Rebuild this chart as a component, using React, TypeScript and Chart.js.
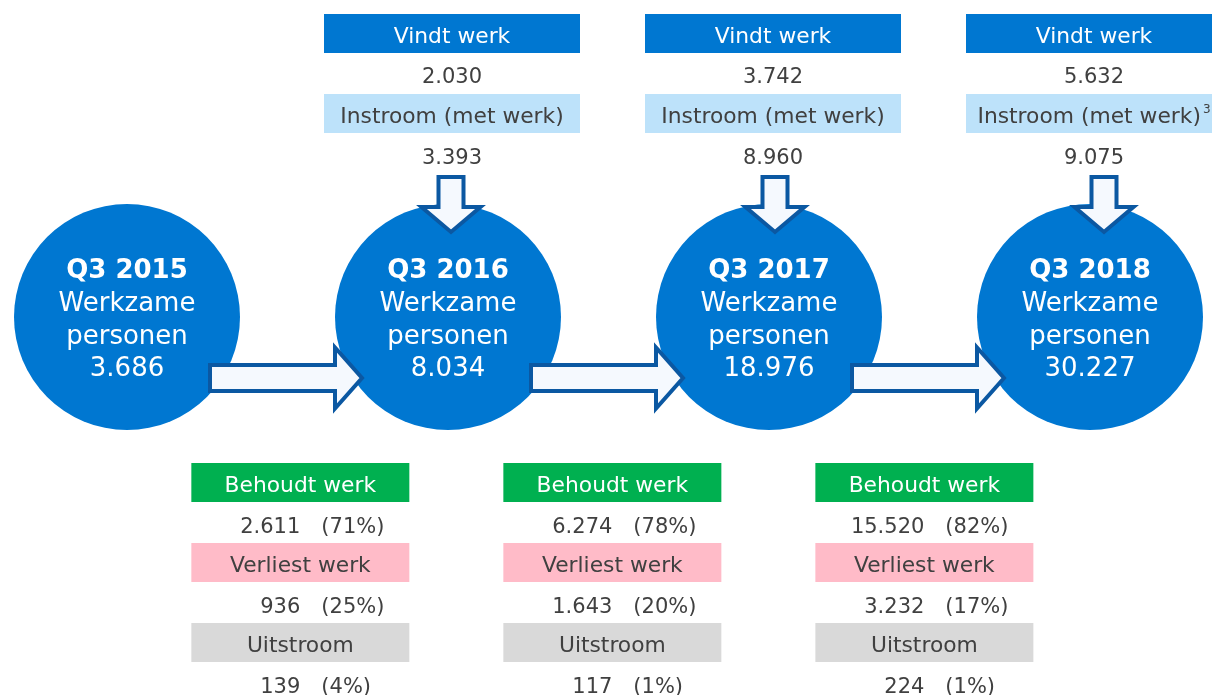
import React, { useEffect, useRef } from "react";
import { Chart, registerables } from "chart.js";

Chart.register(...registerables);

// ---------- data ----------
const periods = ["Q3 2015", "Q3 2016", "Q3 2017", "Q3 2018"];
const werkzamePersonen = [3686, 8034, 18976, 30227];
// inflow into periods 2..4
const vindtWerk = [2030, 3742, 5632];
const instroomMetWerk = [3393, 8960, 9075];
const instroomNotes = ["", "", "3"];
// outcomes of periods 1..3
const behoudtWerk = [2611, 6274, 15520];
const behoudtPct = [71, 78, 82];
const verliestWerk = [936, 1643, 3232];
const verliestPct = [25, 20, 17];
const uitstroom = [139, 117, 224];
const uitstroomPct = [4, 1, 1];

// ---------- style ----------
const FONT = '"DejaVu Sans", Verdana, sans-serif';
const LABEL_FONT = `21.8px ${FONT}`;
const VALUE_FONT = `21px ${FONT}`;
const BLUE = "#0077D1";
const LIGHT_BLUE = "#BDE2FA";
const GREEN = "#00B050";
const PINK = "#FFBBC8";
const GREY = "#D9D9D9";
const TEXT = "#404040";
const ARROW_STROKE = "#0B58A2";
const ARROW_FILL = "#F5F9FE";
const CIRCLE_Y = 317;
const CIRCLE_R = 113;

const fmt = (n: number) => String(n).replace(/\B(?=(\d{3})+(?!\d))/g, ".");

function box(ctx: CanvasRenderingContext2D, cx: number, y: number, w: number, color: string) {
  ctx.fillStyle = color;
  ctx.fillRect(cx - w / 2, y, w, 39);
}

function label(ctx: CanvasRenderingContext2D, text: string, x: number, y: number, color: string, align: CanvasTextAlign = "center", font = VALUE_FONT) {
  ctx.font = font;
  ctx.fillStyle = color;
  ctx.textAlign = align;
  ctx.textBaseline = "alphabetic";
  ctx.fillText(text, x, y);
}

function rightArrow(ctx: CanvasRenderingContext2D, x0: number, tip: number, cy: number) {
  const base = tip - 30;
  ctx.beginPath();
  ctx.moveTo(x0 + 2, cy - 13);
  ctx.lineTo(base, cy - 13);
  ctx.lineTo(base, cy - 30.5);
  ctx.lineTo(tip - 3, cy);
  ctx.lineTo(base, cy + 30.5);
  ctx.lineTo(base, cy + 13);
  ctx.lineTo(x0 + 2, cy + 13);
  ctx.closePath();
  ctx.fillStyle = ARROW_FILL;
  ctx.fill();
  ctx.lineWidth = 4;
  ctx.lineJoin = "miter";
  ctx.strokeStyle = ARROW_STROKE;
  ctx.stroke();
}

function downArrow(ctx: CanvasRenderingContext2D, cx: number, top: number, tip: number) {
  const base = tip - 28;
  ctx.beginPath();
  ctx.moveTo(cx - 12.5, top + 2);
  ctx.lineTo(cx + 12.5, top + 2);
  ctx.lineTo(cx + 12.5, base);
  ctx.lineTo(cx + 29.5, base);
  ctx.lineTo(cx, tip - 3);
  ctx.lineTo(cx - 29.5, base);
  ctx.lineTo(cx - 12.5, base);
  ctx.closePath();
  ctx.fillStyle = ARROW_FILL;
  ctx.fill();
  ctx.lineWidth = 4;
  ctx.lineJoin = "miter";
  ctx.strokeStyle = ARROW_STROKE;
  ctx.stroke();
}

const downArrowDx = [3, 6, 14];

const infographic = {
  id: "infographic",
  afterDatasetsDraw(chart: any) {
    const ctx: CanvasRenderingContext2D = chart.ctx;
    const xs = chart.scales.x;
    const pts = chart.getDatasetMeta(0).data;
    ctx.save();

    // circle texts
    pts.forEach((p: any, i: number) => {
      const cx = p.x;
      const cy = p.y;
      label(ctx, periods[i], cx, cy - 39, "#FFFFFF", "center", `bold 26px ${FONT}`);
      label(ctx, "Werkzame", cx, cy - 6, "#FFFFFF", "center", `26px ${FONT}`);
      label(ctx, "personen", cx, cy + 26.5, "#FFFFFF", "center", `26px ${FONT}`);
      label(ctx, fmt(werkzamePersonen[i]), cx, cy + 58.5, "#FFFFFF", "center", `26px ${FONT}`);
    });

    // inflow columns (top)
    vindtWerk.forEach((v, k) => {
      const i = k + 1;
      const cx = pts[i].x + 4;
      box(ctx, cx, 14, 256, BLUE);
      label(ctx, "Vindt werk", cx, 43, "#FFFFFF", "center", LABEL_FONT);
      label(ctx, fmt(v), cx, 83, TEXT);
      box(ctx, cx, 94, 256, LIGHT_BLUE);
      const main = "Instroom (met werk)";
      const note = instroomNotes[k];
      ctx.font = LABEL_FONT;
      const wMain = ctx.measureText(main).width;
      ctx.font = `12px ${FONT}`;
      const wNote = note ? ctx.measureText(note).width + 2 : 0;
      const startX = cx - (wMain + wNote) / 2;
      label(ctx, main, startX, 123, TEXT, "left", LABEL_FONT);
      if (note) label(ctx, note, startX + wMain + 2, 113, TEXT, "left", `12px ${FONT}`);
      label(ctx, fmt(instroomMetWerk[k]), cx, 164, TEXT);
      downArrow(ctx, pts[i].x + downArrowDx[k], 175, 235);
    });

    // outcome columns (bottom)
    behoudtWerk.forEach((v, i) => {
      const cx = xs.getPixelForValue(0.54 + i * 0.972);
      box(ctx, cx, 463, 218, GREEN);
      label(ctx, "Behoudt werk", cx, 492, "#FFFFFF", "center", LABEL_FONT);
      label(ctx, fmt(v), cx, 533, TEXT, "right");
      label(ctx, `(${behoudtPct[i]}%)`, cx + 21, 533, TEXT, "left");
      box(ctx, cx, 543, 218, PINK);
      label(ctx, "Verliest werk", cx, 572, TEXT, "center", LABEL_FONT);
      label(ctx, fmt(verliestWerk[i]), cx, 613, TEXT, "right");
      label(ctx, `(${verliestPct[i]}%)`, cx + 21, 613, TEXT, "left");
      box(ctx, cx, 623, 218, GREY);
      label(ctx, "Uitstroom", cx, 652, TEXT, "center", LABEL_FONT);
      label(ctx, fmt(uitstroom[i]), cx, 693, TEXT, "right");
      label(ctx, `(${uitstroomPct[i]}%)`, cx + 21, 693, TEXT, "left");
    });

    // transitions between periods
    for (let i = 0; i < pts.length - 1; i++) {
      rightArrow(ctx, pts[i].x + 81, pts[i + 1].x - 83, 378);
    }

    ctx.restore();
  },
};

export default function App() {
  const ref = useRef<HTMLCanvasElement>(null);
  useEffect(() => {
    document.body.style.margin = "0";
    const chart = new Chart(ref.current as HTMLCanvasElement, {
      type: "scatter",
      data: {
        datasets: [
          {
            data: periods.map((_, i) => ({ x: i, y: CIRCLE_Y })),
            pointRadius: CIRCLE_R,
            pointHoverRadius: CIRCLE_R,
            backgroundColor: BLUE,
            borderWidth: 0,
            clip: false as any,
          },
        ],
      },
      options: {
        animation: false,
        responsive: false,
        devicePixelRatio: 1,
        events: [],
        layout: { padding: 0, autoPadding: false },
        plugins: {
          legend: { display: false },
          tooltip: { enabled: false },
          title: { display: false },
        },
        scales: {
          x: { type: "linear", min: -127 / 321, max: (1212 - 127) / 321, display: false },
          y: { type: "linear", min: 0, max: 695, reverse: true, display: false },
        },
      },
      plugins: [infographic],
    });
    return () => chart.destroy();
  }, []);
  return (
    <div style={{ position: "absolute", left: 0, top: 0, width: 1212, height: 695, background: "#fff" }}>
      <canvas ref={ref} width={1212} height={695} style={{ display: "block" }} />
    </div>
  );
}
